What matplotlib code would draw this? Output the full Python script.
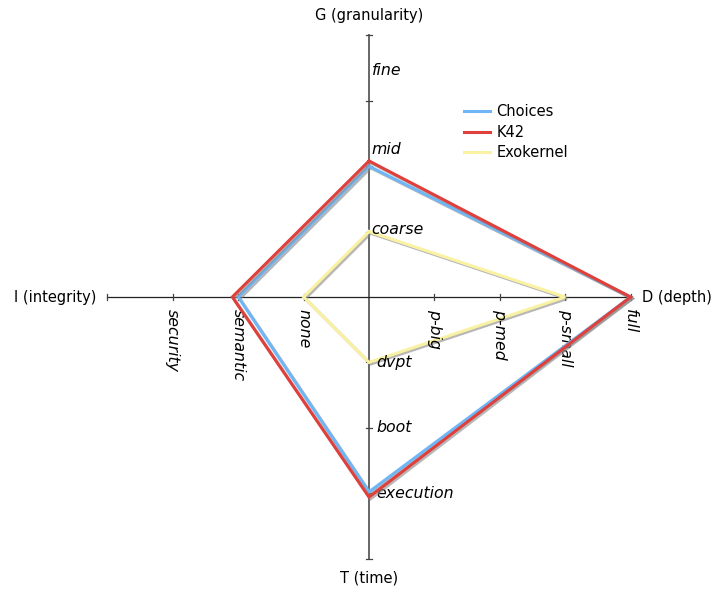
import matplotlib.pyplot as plt
import matplotlib.patheffects as pe

# four axes of the kiviat diagram: G up, D right, T down, I left
axis_names = ["G (granularity)", "D (depth)", "T (time)", "I (integrity)"]
g_labels = ["coarse", "mid", "fine"]
d_labels = ["p-big", "p-med", "p-small", "full"]
t_labels = ["dvpt", "boot", "execution"]
i_labels = ["none", "semantic", "security"]

systems = ["Choices", "K42", "Exokernel"]
# values per system as (G, D, T, I)
choices = [2.0, 4.0, 2.98, 2.0]
k42 = [2.08, 4.0, 3.06, 2.09]
exokernel = [1.0, 3.0, 1.0, 1.0]
colors = ["#6fb6f6", "#e0403c", "#f9f2a2"]

AXLEN = 4
UNIT = 65.4  # pixels per axis step

fig = plt.figure(figsize=(7.13, 5.92), dpi=100)
ax = fig.add_axes([0, 0, 1, 1])
ax.set_xlim(-369 / UNIT, (713 - 369) / UNIT)
ax.set_ylim(-295 / UNIT, 297 / UNIT)
ax.axis("off")

# axes lines
ax.plot([0, 0], [-AXLEN, AXLEN], color="#666666", lw=1.4, zorder=1)
ax.plot([-AXLEN, AXLEN], [0, 0], color="#222222", lw=0.9, zorder=1)
tk = 0.05
for i in range(1, AXLEN + 1):
    for s in (-1, 1):
        ax.plot([-tk, tk], [s * i, s * i], color="#444444", lw=0.9, zorder=1)
        ax.plot([s * i, s * i], [-tk, tk], color="#444444", lw=0.9, zorder=1)

fs = 10.5
lfs = 11.3
# axis titles
ax.text(0, AXLEN + 0.3, axis_names[0], ha="center", va="center", fontsize=fs)
ax.text(AXLEN + 0.17, 0, axis_names[1], ha="left", va="center", fontsize=fs)
ax.text(0, -AXLEN - 0.3, axis_names[2], ha="center", va="center", fontsize=fs)
ax.text(-AXLEN - 0.17, 0, axis_names[3], ha="right", va="center", fontsize=fs)

# value labels
g_nudge = [0.03, 0.25, 0.47]
for i, lab in enumerate(g_labels):
    ax.text(0.04, i + 1 + g_nudge[i], lab, style="italic", ha="left", va="center", fontsize=lfs)
for i, lab in enumerate(t_labels):
    ax.text(0.11, -(i + 1), lab, style="italic", ha="left", va="center", fontsize=lfs)
for i, lab in enumerate(d_labels):
    ax.text(i + 1, -0.18, lab, style="italic", rotation=270, ha="center", va="top", fontsize=lfs)
for i, lab in enumerate(i_labels):
    ax.text(-(i + 1), -0.18, lab, style="italic", rotation=270, ha="center", va="top", fontsize=lfs)

shadow = [pe.SimpleLineShadow(offset=(1.2, -1.2), shadow_color="#888888", alpha=0.6), pe.Normal()]


def polygon(vals):
    g, d, t, i = vals
    xs = [0, d, 0, -i, 0]
    ys = [g, 0, -t, 0, g]
    return xs, ys


lines = []
for name, vals, col, z in [("Exokernel", exokernel, colors[2], 2),
                           ("Choices", choices, colors[0], 3),
                           ("K42", k42, colors[1], 4)]:
    xs, ys = polygon(vals)
    ln, = ax.plot(xs, ys, color=col, lw=2.2, zorder=z, label=name,
                  solid_joinstyle="miter", path_effects=shadow)
    lines.append(ln)

# legend handles drawn without the shadow
handles = []
for col in colors:
    h, = ax.plot([], [], color=col, lw=2.2)
    handles.append(h)
leg = ax.legend(handles, systems, loc="upper left", bbox_to_anchor=(451 / 713, 1 - 91 / 592),
                frameon=False, fontsize=fs, handlelength=1.8, handletextpad=0.4,
                labelspacing=0.38)

fig.savefig("out.png", dpi=100)
